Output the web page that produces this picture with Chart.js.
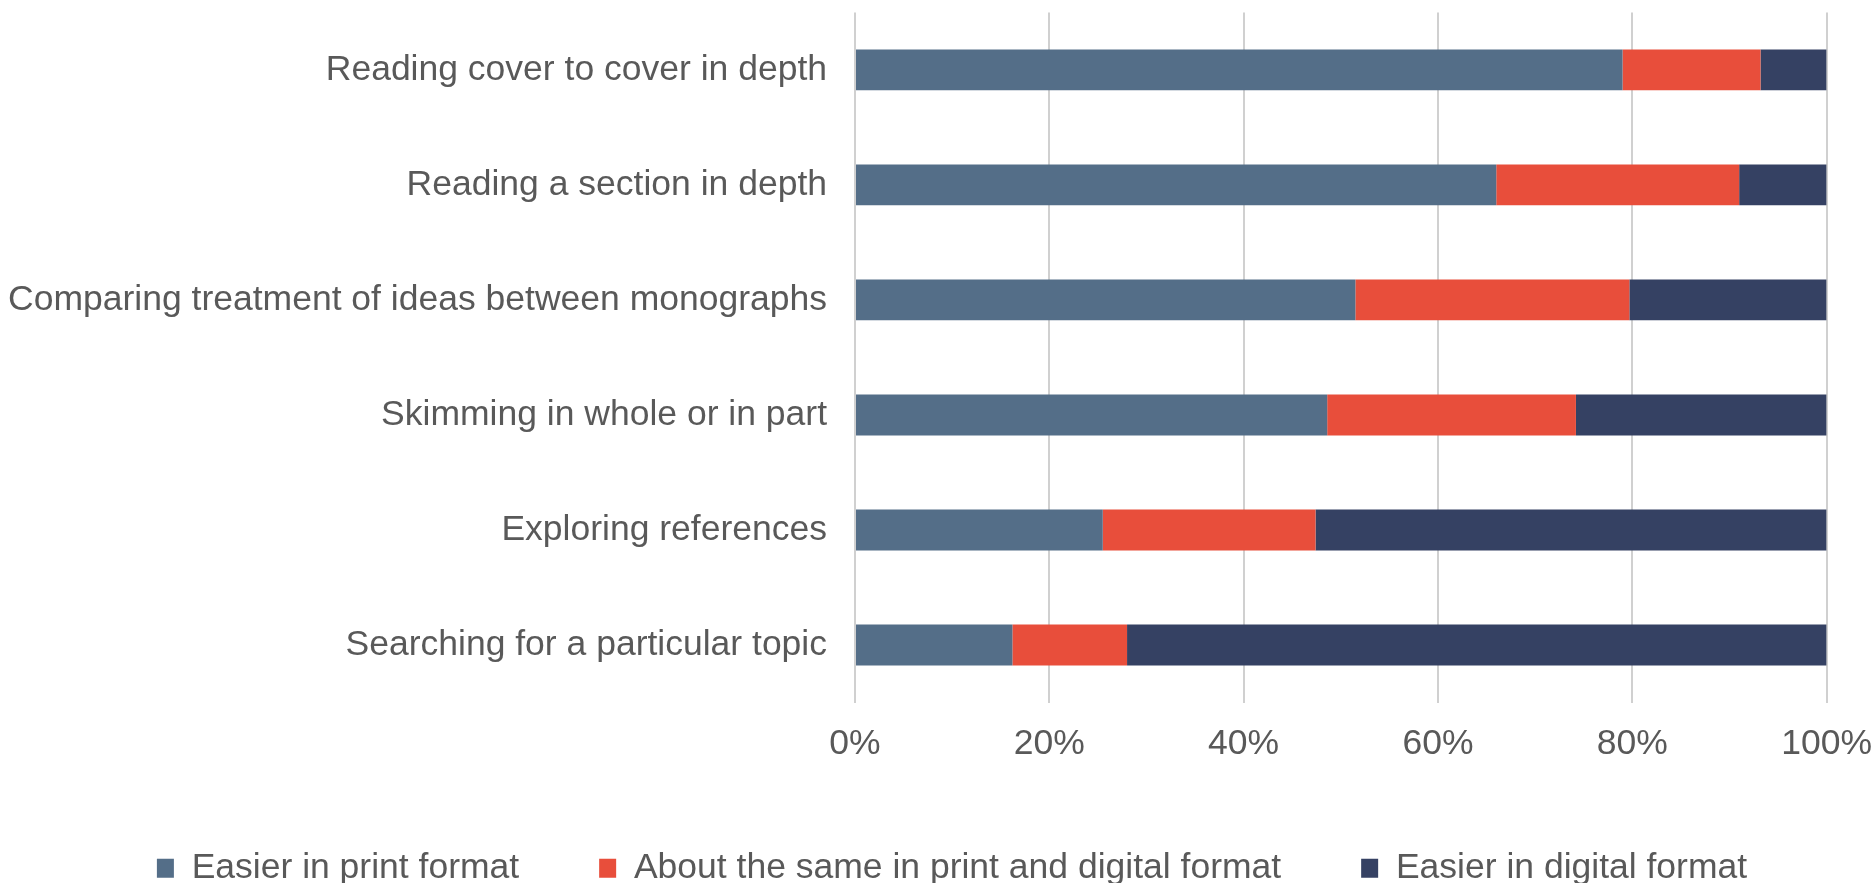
<!DOCTYPE html>
<html>
<head>
<meta charset="utf-8">
<title>Print vs digital reading tasks</title>
<script src="https://cdn.jsdelivr.net/npm/chart.js@4"></script>
<style>
  body { margin: 0; background: #fff; }
  #wrap { width: 1872px; height: 883px; }
</style>
</head>
<body>
<div id="wrap"><canvas id="myChart" width="1872" height="883"></canvas></div>
<script>
// tasks, top to bottom
const tasks = [
  'Reading cover to cover in depth',
  'Reading a section in depth',
  'Comparing treatment of ideas between monographs',
  'Skimming in whole or in part',
  'Exploring references',
  'Searching for a particular topic'
];
// shares in %
const easierPrint   = [79.0, 66.0, 51.5, 48.6, 25.5, 16.2];
const aboutSame     = [14.2, 25.0, 28.2, 25.6, 21.9, 11.8];
const easierDigital = [6.8, 9.0, 20.3, 25.8, 52.6, 72.0];
const seriesNames = ['Easier in print format', 'About the same in print and digital format', 'Easier in digital format'];
const xTicks = [0, 20, 40, 60, 80, 100];

const textColor = '#595959';
const fontFamily = '"Liberation Sans", Arial, sans-serif';

// the legend row sits a bit right of centre in the original
const legendShift = {
  id: 'legendShift',
  afterLayout(chart){
    if (chart.legend){
      chart.legend.left += 16;
      chart.legend.right += 16;
    }
  }
};

function initChart(target){
  const chart = new Chart(target, {
    type: 'bar',
    data: {
      labels: tasks,
      datasets: [
        { label: seriesNames[0], data: easierPrint, backgroundColor: '#546e88' },
        { label: seriesNames[1], data: aboutSame, backgroundColor: '#e84e3b' },
        { label: seriesNames[2], data: easierDigital, backgroundColor: '#354163' }
      ]
    },
    plugins: [legendShift],
    options: {
      indexAxis: 'y',
      responsive: false,
      animation: false,
      devicePixelRatio: 1,
      datasets: { bar: { categoryPercentage: 1, barPercentage: 0.355 } },
      layout: { padding: { top: 0, left: 0, right: 0, bottom: -13 } },
      plugins: {
        tooltip: { enabled: false },
        legend: {
          position: 'bottom',
          labels: {
            color: textColor,
            font: { family: fontFamily, size: 35.5 },
            boxWidth: 17,
            boxHeight: 19,
            padding: 80
          }
        }
      },
      scales: {
        x: {
          stacked: true,
          min: 0,
          max: 100,
          afterBuildTicks: (axis) => { axis.ticks = xTicks.map(v => ({ value: v })); },
          afterFit: (axis) => { axis.height = 68; },
          grid: { color: '#d0d0d0', lineWidth: 2, drawTicks: true, tickLength: 20, tickColor: 'rgba(0,0,0,0)' },
          border: { display: false },
          ticks: {
            color: textColor,
            font: { family: fontFamily, size: 35.5 },
            padding: 0,
            callback: (v) => v + '%'
          }
        },
        y: {
          stacked: true,
          afterFit: (axis) => { axis.width = 855; },
          grid: { display: false, drawTicks: true, tickLength: 28 },
          border: { display: false },
          ticks: {
            color: textColor,
            font: { family: fontFamily, size: 35.5, lineHeight: 0.7 },
            padding: 0
          }
        }
      }
    }
  });
  return chart;
}

document.addEventListener('DOMContentLoaded', () => initChart(document.querySelector('#myChart')));
</script>
</body>
</html>
